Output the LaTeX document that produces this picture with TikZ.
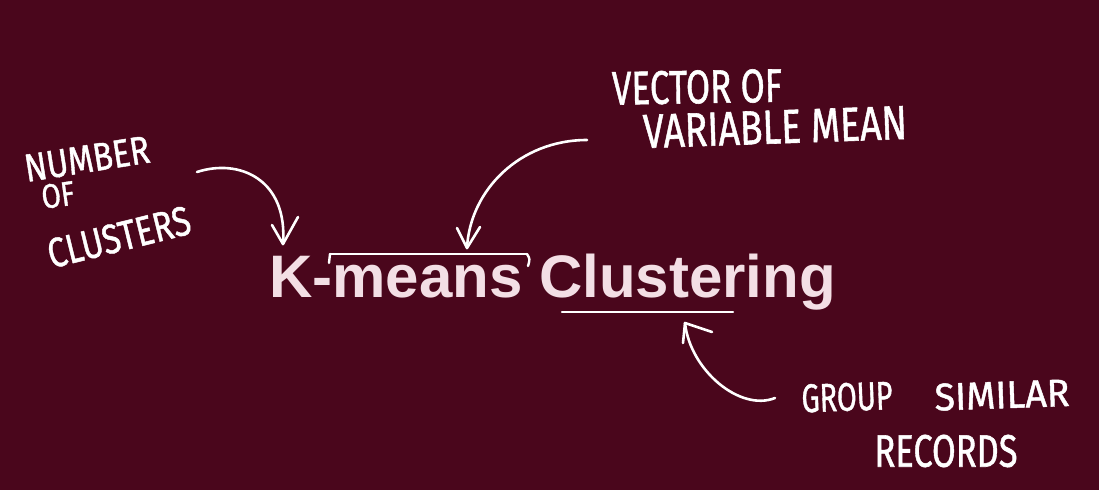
\documentclass[tikz,border=0pt]{standalone}
\usepackage{fontspec}
\usepackage{graphicx}
\newfontfamily\titlefont{Liberation Sans}
\newfontfamily\handfont[FakeBold=1.2]{Fira Sans}
\definecolor{bgmaroon}{HTML}{4A061C}
\definecolor{titlepink}{HTML}{F3DFE5}
\newcommand{\hw}[3]{\resizebox{#1pt}{#2pt}{\handfont\fontsize{30}{30}\selectfont #3}}
\begin{document}
\begin{tikzpicture}[x=1pt,y=-1pt,
  hand/.style={inner sep=0pt, text=white},
  ink/.style={draw=white, line width=2.6pt, line cap=round, line join=round},
  mark line/.style={draw=white, line width=2.4pt, line cap=round}]
\fill[bgmaroon] (0,0) rectangle (1099,490);
\useasboundingbox (0,0) rectangle (1099,490);

% title
\node[anchor=base west, inner sep=0pt, text=titlepink, font=\titlefont\bfseries\fontsize{60}{60}\selectfont] (title) at (269,297) {K-means Clustering};

% labels
\node[hand, rotate=9] (number) at (87,159) {\hw{126}{27}{NUMBER}};
\node[hand, rotate=8] (of) at (58,195) {\hw{33}{24}{OF}};
\node[hand, rotate=14] (clusters) at (119,237) {\hw{146}{29}{CLUSTERS}};
\node[hand, rotate=1] (vector) at (697,87) {\hw{170}{33}{VECTOR OF}};
\node[hand, rotate=2] (variable) at (775,127) {\hw{264}{33}{VARIABLE MEAN}};
\node[hand, rotate=2] (group) at (847,397) {\hw{91}{28}{GROUP}};
\node[hand, rotate=2] (similar) at (1002,395) {\hw{135}{27}{SIMILAR}};
\node[hand] (records) at (946,451) {\hw{143}{32}{RECORDS}};

% coordinates for connectors
\coordinate (a1s) at (197,172);
\coordinate (a1t) at (283,244);
\coordinate (a1l) at (272,225);
\coordinate (a1r) at (298,217);
\coordinate (a2s) at (587,140);
\coordinate (a2t) at (467,248);
\coordinate (a2l) at (457,228);
\coordinate (a2r) at (480,227);
\coordinate (a3s) at (775,398);
\coordinate (a3t) at (685,323);
\coordinate (a3l) at (712,332);
\coordinate (a3r) at (683,343);
\coordinate (brL) at (330,254);
\coordinate (brR) at (527,254);
\coordinate (ulL) at (562,312);
\coordinate (ulR) at (733,312);

% arrows
\draw[ink] (a1s) .. controls (240,158) and (288,180) .. (a1t);
\draw[ink] (a1l) -- (a1t) -- (a1r);
\draw[ink] (a2s) .. controls (520,140) and (470,190) .. (a2t);
\draw[ink] (a2l) -- (a2t) -- (a2r);
\draw[ink] (a3s) .. controls (740,412) and (690,370) .. (a3t);
\draw[ink] (a3l) -- (a3t) -- (a3r);

% bracket over "means"
\draw[mark line] (brL) -- (brR);
\draw[mark line] (brL) -- ++(-1,9);
\draw[mark line] (brR) .. controls (530,259) .. ++(1,12);

% underline under "Clustering"
\draw[mark line] (ulL) -- (ulR);
\end{tikzpicture}
\end{document}
